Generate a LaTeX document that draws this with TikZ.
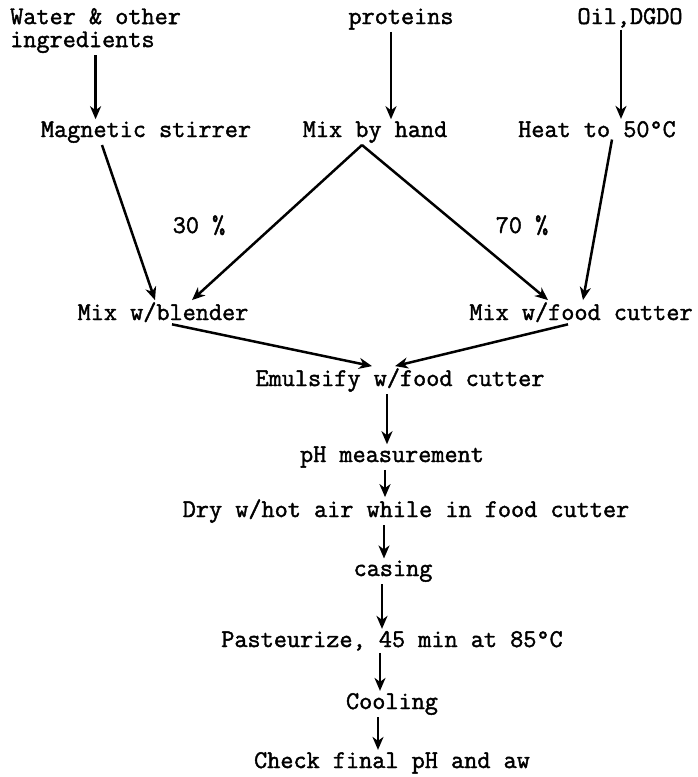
\documentclass[tikz,border=0pt]{standalone}
\usepackage{fontspec}
\setmainfont{Latin Modern Mono}[FakeBold=1.6]
\usetikzlibrary{arrows.meta,positioning}
\tikzset{
  txt/.style={font=\fontsize{25.5}{23}\selectfont, inner sep=2pt, anchor=base},
  flow/.style={-{Stealth[length=13pt,width=11pt,inset=4pt]}, line width=2.5pt},
}

\begin{document}
\begin{tikzpicture}[x=1pt,y=-1pt]
 \useasboundingbox (0,0) rectangle (698,777);
 % ingredients
 \node[txt, anchor=north west, align=left] (water) at (8,6) {Water \& other\\ingredients};
 \node[txt] (prot) at (401,24) {proteins};
 \node[txt] (oil) at (630,24) {Oil,DGDO};
 % first treatment
 \node[txt] (stir) at (146,137) {Magnetic stirrer};
 \node[txt] (hand) at (375,137) {Mix by hand};
 \node[txt] (heat) at (597,137) {Heat to 50°C};
 \node[txt] (p30) at (199,233) {30 \%};
 \node[txt] (p70) at (522,233) {70 \%};
 % mixing
 \node[txt] (blend) at (163,320) {Mix w/blender};
 \node[txt] (cutter) at (581,320) {Mix w/food cutter};
 \node[txt] (emul) at (400,386) {Emulsify w/food cutter};
 % processing chain
 \node[txt] (ph) at (392,462) {pH measurement};
 \node[txt] (dry) at (406,517) {Dry w/hot air while in food cutter};
 \node[txt] (casing) at (393,576) {casing};
 \node[txt] (past) at (392,647) {Pasteurize, 45 min at 85°C};
 \node[txt] (cool) at (392,709) {Cooling};
 \node[txt] (check) at (392,768) {Check final pH and aw};

 \draw[flow] (water.south) -- (water.south |- stir.north);
 \draw[flow] ([xshift=-10pt]prot.south) -- ([xshift=16pt]hand.north);
 \draw[flow] ([xshift=-9pt]oil.south) -- ([xshift=24pt]heat.north);
 \draw[flow] ([xshift=-44pt]stir.south) -- ([xshift=-8pt]blend.north);
 \draw[flow] ([xshift=-13pt]hand.south) -- ([xshift=29pt]blend.north);
 \draw[flow] ([xshift=-13pt]hand.south) -- ([xshift=-33pt]cutter.north);
 \draw[flow] ([xshift=15pt]heat.south) -- ([xshift=2pt]cutter.north);
 \draw[flow] ([xshift=9pt]blend.south) -- ([xshift=-28pt]emul.north);
 \draw[flow] ([xshift=-13pt]cutter.south) -- ([xshift=-5pt]emul.north);
 \draw[flow] ([xshift=-13pt]emul.south) -- ([xshift=-5pt]ph.north);
 \draw[flow] ([xshift=-7pt]ph.south) -- ([xshift=-21pt]dry.north);
 \draw[flow] ([xshift=-22pt]dry.south) -- ([xshift=-9pt]casing.north);
 \draw[flow] ([xshift=-11pt]casing.south) -- ([xshift=-10pt]past.north);
 \draw[flow] ([xshift=-12pt]past.south) -- ([xshift=-12pt]cool.north);
 \draw[flow] ([xshift=-14pt]cool.south) -- ([xshift=-14pt]check.north);
\end{tikzpicture}
\end{document}
